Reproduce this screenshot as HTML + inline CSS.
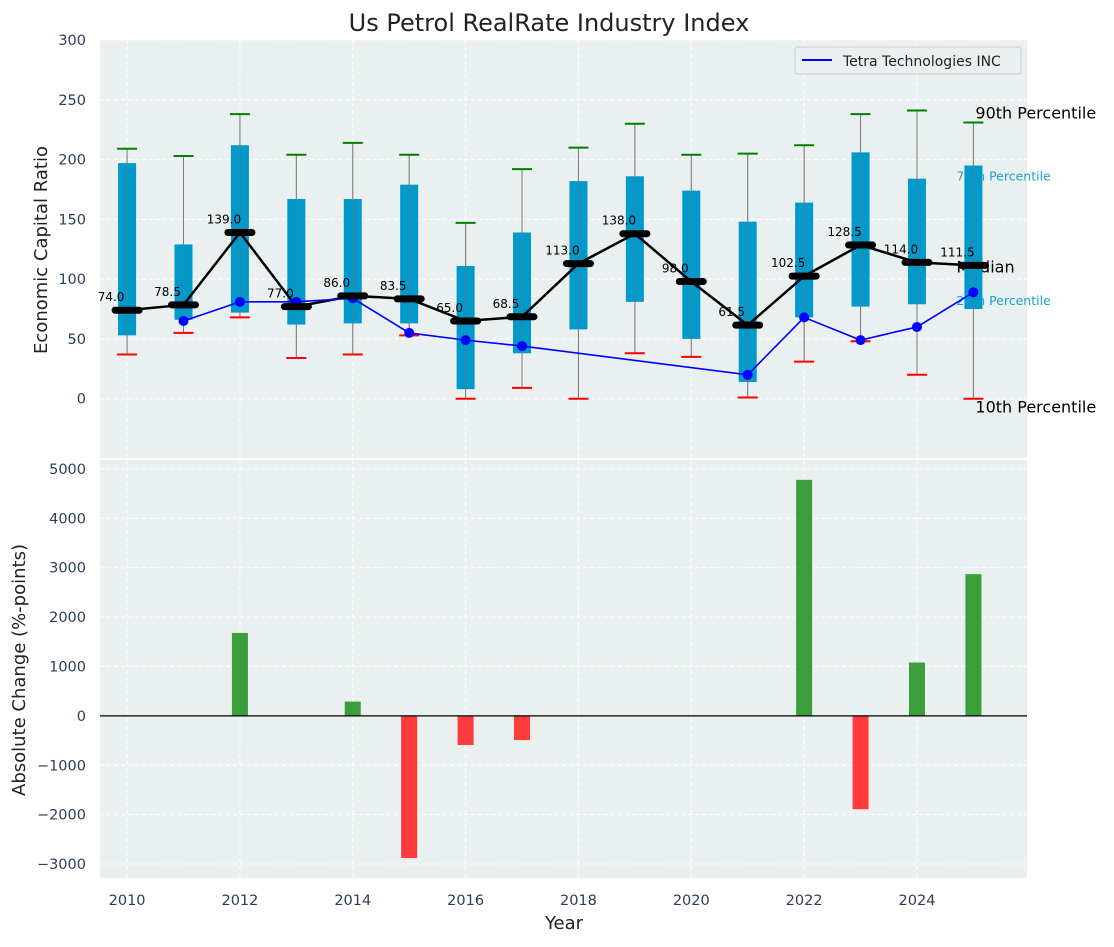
<!DOCTYPE html>
<html><head><meta charset="utf-8"><style>
body{margin:0;background:#fff;font-family:"Liberation Sans","DejaVu Sans",sans-serif;}
svg text{font-family:"DejaVu Sans","Liberation Sans",sans-serif;}
</style></head><body>
<svg id="c" width="1114" height="942"></svg>
<script>
const years=[2010,2011,2012,2013,2014,2015,2016,2017,2018,2019,2020,2021,2022,2023,2024,2025];
const p90=[209,203,238,204,214,204,147,192,210,230,204,205,212,238,241,231];
const p75=[197,129,212,167,167,179,111,139,182,186,174,148,164,206,184,195];
const median=[74,78.5,139,77,86,83.5,65,68.5,113,138,98,61.5,102.5,128.5,114,111.5];
const p25=[53,66,72,62,63,63,8,38,58,81,50,14,68,77,79,75];
const p10=[37,55,68,34,37,53,0,9,0,38,35,1,31,48,20,0];
const tetraYears=[2011,2012,2013,2014,2015,2016,2017,2021,2022,2023,2024,2025];
const tetraVals=[65,81,81,84,55,49,44,20,68,49,60,89];
const changeYears=[2012,2014,2015,2016,2017,2022,2023,2024,2025];
const changeVals=[1680,290,-2880,-590,-490,4780,-1890,1080,2870];
const topTicks=[0,50,100,150,200,250,300];
const botTicks=[-3000,-2000,-1000,0,1000,2000,3000,4000,5000];
const xTicks=[2010,2012,2014,2016,2018,2020,2022,2024];

const svg=document.getElementById('c');const NS='http://www.w3.org/2000/svg';
function el(t,a,p){const e=document.createElementNS(NS,t);for(const k in a)e.setAttribute(k,a[k]);(p||svg).appendChild(e);return e;}
const L=100,R=1027;
const x=v=>L+(v-2009.52)/(2025.95-2009.52)*(R-L);
const T1=40,B1=458,yT=v=>T1+(300-v)/(300+49.6)*(B1-T1);
const T2=460,B2=878,yB=v=>T2+(5182-v)/(5182+3283)*(B2-T2);

const bg1=el('rect',{x:L,y:T1,width:R-L,height:B1-T1,fill:'#eaeff0'});

const bg2=el('rect',{x:L,y:T2,width:R-L,height:B2-T2,fill:'#eaeff0'});

xTicks.forEach(v=>{[[T1,B1],[T2,B2]].forEach(([a,b])=>el('line',{x1:x(v),x2:x(v),y1:a,y2:b,stroke:'#fff','stroke-dasharray':'4,3'}));
 const t=el('text',{x:x(v),y:905,'text-anchor':'middle','font-size':14.5,fill:'#2a3f55'});t.textContent=v;
 });
topTicks.forEach(v=>{el('line',{x1:L,x2:R,y1:yT(v),y2:yT(v),stroke:'#fff','stroke-dasharray':'4,3'});
 const t=el('text',{x:86,y:yT(v)+5,'text-anchor':'end','font-size':14.5,fill:'#2a3f55'});t.textContent=v;
 });
botTicks.forEach(v=>{el('line',{x1:L,x2:R,y1:yB(v),y2:yB(v),stroke:'#fff','stroke-dasharray':'4,3'});
 const t=el('text',{x:86,y:yB(v)+5,'text-anchor':'end','font-size':14.5,fill:'#2a3f55'});t.textContent=(v<0?'\u2212'+(-v):v);
 });

const lx=x(2025);
[['90th Percentile',p90[15],lx+2,16,'#000',-4],['75th Percentile',p75[15],lx-17,12.5,'#1ba1d2',15],['Median',median[15],lx-17,16,'#000',7],['25th Percentile',p25[15],lx-17,12.5,'#1ba1d2',-4],['10th Percentile',p10[15],lx+2,16,'#000',14]].forEach(a=>{
 const t=el('text',{x:a[2],y:yT(a[1])+a[5],'font-size':a[3],fill:a[4]});t.textContent=a[0];
 });

years.forEach((yr,i)=>{const cx=x(yr);
 el('line',{x1:cx,x2:cx,y1:yT(p10[i]),y2:yT(p90[i]),stroke:'#888','stroke-width':1});
 const b=el('rect',{x:cx-9,y:yT(p75[i]),width:18,height:yT(p25[i])-yT(p75[i]),fill:'#0099cc'});
 
 el('line',{x1:cx,x2:cx,y1:yT(p10[i]),y2:yT(p90[i]),stroke:'#777','stroke-width':1,opacity:0.6});
 el('line',{x1:cx-10,x2:cx+10,y1:yT(p90[i]),y2:yT(p90[i]),stroke:'green','stroke-width':2});
 el('line',{x1:cx-10,x2:cx+10,y1:yT(p10[i]),y2:yT(p10[i]),stroke:'red','stroke-width':2});
});
const mp=el('polyline',{points:years.map((yr,i)=>x(yr)+','+yT(median[i])).join(' '),fill:'none',stroke:'#000','stroke-width':2.5});

const tp=el('polyline',{points:tetraYears.map((yr,i)=>x(yr)+','+yT(tetraVals[i])).join(' '),fill:'none',stroke:'#0000ff','stroke-width':1.6});

tetraYears.forEach((yr,i)=>{const c=el('circle',{cx:x(yr),cy:yT(tetraVals[i]),r:5,fill:'#0000ff'});
 });
years.forEach((yr,i)=>{const cx=x(yr),cy=yT(median[i]);
 const m=el('line',{x1:cx-12,x2:cx+12,y1:cy,y2:cy,stroke:'#000','stroke-width':7,'stroke-linecap':'round'});
 
 const t=el('text',{x:cx-16,y:cy-9,'text-anchor':'middle','font-size':12,fill:'#000'});t.textContent=median[i].toFixed(1);
 });

changeYears.forEach((yr,i)=>{const v=changeVals[i];
 const b=el('rect',{x:x(yr)-8,y:Math.min(yB(v),yB(0)),width:16,height:Math.abs(yB(v)-yB(0)),fill:v>=0?'#3a9e3a':'#ff3b3b'});
 });
const zl=el('line',{x1:L,x2:R,y1:yB(0),y2:yB(0),stroke:'#000','stroke-width':1.2});


el('line',{x1:L,x2:R,y1:459,y2:459,stroke:'#fff','stroke-width':2});

const lg=el('g',{});
el('rect',{x:795,y:47,width:226,height:27,rx:3,fill:'#eaeff0',stroke:'#ccc'},lg);
el('line',{x1:802,x2:832,y1:60,y2:60,stroke:'#0000ff','stroke-width':2},lg);
const lt=el('text',{x:843,y:66,'font-size':14,fill:'#222'},lg);lt.textContent='Tetra Technologies INC';

const ti=el('text',{x:549,y:31,'text-anchor':'middle','font-size':24,fill:'#222'});ti.textContent='Us Petrol RealRate Industry Index';

const xl=el('text',{x:564,y:929,'text-anchor':'middle','font-size':18,fill:'#222'});xl.textContent='Year';

const y1=el('text',{x:0,y:0,'text-anchor':'middle','font-size':18,fill:'#222',transform:'translate(47,250) rotate(-90)'});y1.textContent='Economic Capital Ratio';

const y2=el('text',{x:0,y:0,'text-anchor':'middle','font-size':18,fill:'#222',transform:'translate(25,670) rotate(-90)'});y2.textContent='Absolute Change (%-points)';

</script>
</body></html>
